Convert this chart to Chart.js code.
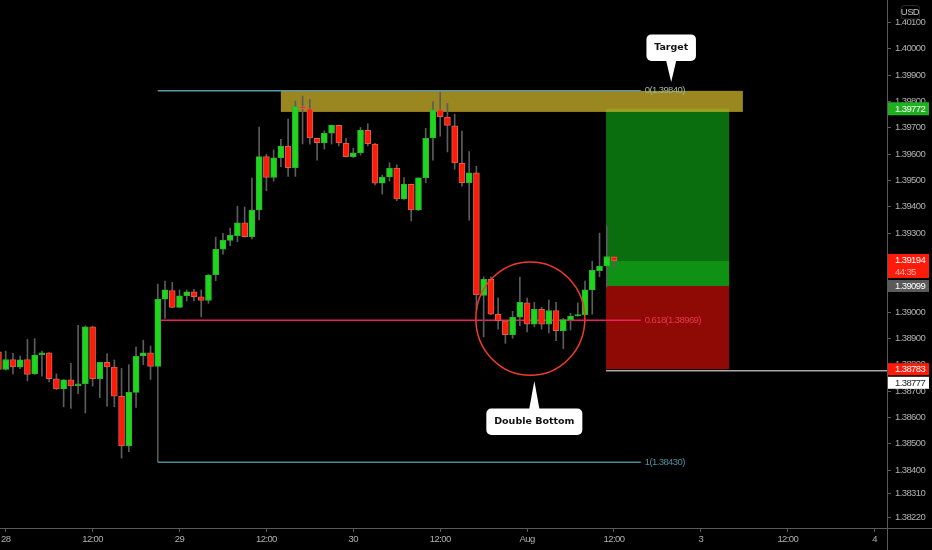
<!DOCTYPE html>
<html>
<head>
<meta charset="utf-8">
<title>Double Bottom</title>
<script src="https://cdn.jsdelivr.net/npm/chart.js@4/dist/chart.umd.min.js"></script>
<style>
    html, body { margin: 0; padding: 0; background: #000; overflow: hidden; }
    canvas { display: block; }
</style>
</head>
<body>
<canvas id="priceChart" width="932" height="550"></canvas>
<script>
// Hourly candles, first one sits just left of the "28" tick
const opens = [
    1.38849, 1.38782, 1.38820, 1.38791, 1.38820, 1.38765, 1.38837, 1.38845, 1.38746, 1.38708,
    1.38743, 1.38720, 1.38728, 1.38944, 1.38747, 1.38809, 1.38791, 1.38680, 1.38492, 1.38695,
    1.38833, 1.38845, 1.38794, 1.39049, 1.39082, 1.39018, 1.39062, 1.39077, 1.39058, 1.39044,
    1.39142, 1.39239, 1.39272, 1.39290, 1.39339, 1.39286, 1.39388, 1.39590, 1.39511, 1.39586,
    1.39629, 1.39548, 1.39780, 1.39772, 1.39660, 1.39643, 1.39679, 1.39709, 1.39641, 1.39590,
    1.39605, 1.39690, 1.39638, 1.39489, 1.39513, 1.39547, 1.39430, 1.39485, 1.39388, 1.39510,
    1.39661, 1.39768, 1.39740, 1.39707, 1.39565, 1.39491, 1.39529, 1.39063, 1.39124, 1.38991,
    1.38967, 1.38914, 1.38981, 1.39035, 1.38954, 1.39010, 1.38954, 1.39006, 1.38929, 1.38971,
    1.38985, 1.38989, 1.39084, 1.39157, 1.39175, 1.39210
];
const highs = [
    1.38856, 1.38852, 1.38843, 1.38833, 1.38896, 1.38899, 1.38852, 1.38846, 1.38765, 1.38744,
    1.38805, 1.38950, 1.38948, 1.38947, 1.38809, 1.38842, 1.38818, 1.38786, 1.38800, 1.38867,
    1.38893, 1.38871, 1.39106, 1.39118, 1.39113, 1.39084, 1.39084, 1.39086, 1.39084, 1.39143,
    1.39284, 1.39299, 1.39319, 1.39402, 1.39399, 1.39509, 1.39702, 1.39599, 1.39616, 1.39656,
    1.39733, 1.39801, 1.39820, 1.39808, 1.39661, 1.39688, 1.39710, 1.39710, 1.39660, 1.39622,
    1.39701, 1.39715, 1.39641, 1.39520, 1.39567, 1.39559, 1.39511, 1.39486, 1.39510, 1.39698,
    1.39799, 1.39835, 1.39792, 1.39751, 1.39687, 1.39609, 1.39554, 1.39134, 1.39134, 1.39054,
    1.38968, 1.39003, 1.39133, 1.39053, 1.39037, 1.39018, 1.39046, 1.39037, 1.38976, 1.38995,
    1.39035, 1.39118, 1.39193, 1.39300, 1.39327, 1.39211
];
const lows = [
    1.38772, 1.38780, 1.38765, 1.38785, 1.38739, 1.38763, 1.38757, 1.38735, 1.38706, 1.38640,
    1.38634, 1.38690, 1.38617, 1.38719, 1.38675, 1.38643, 1.38640, 1.38445, 1.38470, 1.38638,
    1.38800, 1.38744, 1.38791, 1.38976, 1.39017, 1.39017, 1.39042, 1.39042, 1.38982, 1.39033,
    1.39119, 1.39220, 1.39252, 1.39267, 1.39285, 1.39278, 1.39350, 1.39461, 1.39497, 1.39552,
    1.39515, 1.39515, 1.39638, 1.39638, 1.39577, 1.39619, 1.39638, 1.39631, 1.39589, 1.39586,
    1.39596, 1.39631, 1.39483, 1.39448, 1.39497, 1.39423, 1.39428, 1.39346, 1.39385, 1.39491,
    1.39577, 1.39668, 1.39608, 1.39542, 1.39478, 1.39349, 1.39008, 1.38906, 1.38990, 1.38935,
    1.38881, 1.38900, 1.38948, 1.38925, 1.38944, 1.38935, 1.38921, 1.38891, 1.38861, 1.38932,
    1.38984, 1.38989, 1.38992, 1.39134, 1.39096, 1.39162
];
const closes = [
    1.38782, 1.38820, 1.38792, 1.38819, 1.38763, 1.38837, 1.38845, 1.38747, 1.38708, 1.38743,
    1.38720, 1.38727, 1.38944, 1.38747, 1.38809, 1.38792, 1.38681, 1.38492, 1.38695, 1.38832,
    1.38845, 1.38794, 1.39048, 1.39084, 1.39018, 1.39062, 1.39077, 1.39058, 1.39044, 1.39140,
    1.39238, 1.39272, 1.39291, 1.39339, 1.39286, 1.39387, 1.39590, 1.39511, 1.39586, 1.39630,
    1.39548, 1.39780, 1.39772, 1.39661, 1.39643, 1.39679, 1.39709, 1.39642, 1.39590, 1.39605,
    1.39691, 1.39639, 1.39489, 1.39513, 1.39547, 1.39430, 1.39486, 1.39388, 1.39510, 1.39660,
    1.39768, 1.39742, 1.39709, 1.39566, 1.39491, 1.39529, 1.39065, 1.39124, 1.38992, 1.38967,
    1.38914, 1.38980, 1.39037, 1.38954, 1.39010, 1.38954, 1.39006, 1.38929, 1.38971, 1.38985,
    1.38990, 1.39084, 1.39158, 1.39175, 1.39211, 1.39194
];

// Axis ticks
const priceTicks = [
    1.401, 1.400, 1.399, 1.398, 1.397, 1.396, 1.395, 1.394, 1.393, 1.392, 1.391, 1.390,
    1.389, 1.388, 1.387, 1.386, 1.385, 1.384, 1.3831, 1.3822
];
const timeTickHours = [0, 12, 24, 36, 48, 60, 72, 84, 96, 108, 120];
const timeTickLabels = ['28', '12:00', '29', '12:00', '30', '12:00', 'Aug', '12:00', '3', '12:00', '4'];

// Fibonacci levels
const fibLevels = [1.39840, 1.38969, 1.38430];
const fibLabels = ['0(1.39840)', '0.618(1.38969)', '1(1.38430)'];
const fibStartHour = 21;
const fibEndHour = 87.7;

// Position tool and resistance zone levels
const targetPrice = 1.39772;
const lastPrice = 1.39194;
const entryPrice = 1.39099;
const stopPrice = 1.38783;
const markerPrice = 1.38777;

const chartAreaRight = 887;
const chartAreaBottom = 528;
const firstHour = -1;
const labelFamily = '"Liberation Sans"';
const labelFont = '9.5px ' + labelFamily;

const hours = opens.map((v, i) => firstHour + i);

function candleColor(i, up, down) {
    return closes[i] >= opens[i] ? up : down;
}

/**
 * Long position boxes and the gold zone, behind the candles
 */
const zonesPlugin = {
    id: 'zones',
    beforeDraw(chart) {
        // the reference labels are narrow, squeeze the axis text a little
        chart.ctx.letterSpacing = '-0.6px';
    },
    beforeDatasetsDraw(chart) {
        const { ctx, scales: { x, y } } = chart;
        const box = (h0, h1, p0, p1, color) => {
            ctx.fillStyle = color;
            ctx.fillRect(x.getPixelForValue(h0), y.getPixelForValue(p0),
                x.getPixelForValue(h1) - x.getPixelForValue(h0),
                y.getPixelForValue(p1) - y.getPixelForValue(p0));
        };
        ctx.save();
        box(82.9, 99.9, targetPrice, lastPrice, '#0a6e0f');
        box(82.9, 99.9, lastPrice, entryPrice, '#0f9114');
        box(82.9, 99.9, entryPrice, stopPrice, '#8f0a04');
        box(38, 101.8, fibLevels[0], 1.39760, 'rgba(200,175,40,0.77)');
        ctx.restore();
    }
};

/**
 * Circle, callouts, fib labels, axis extensions and price tags on top
 */
const overlayPlugin = {
    id: 'overlay',
    afterDatasetsDraw(chart) {
        const { ctx, scales: { x, y } } = chart;
        ctx.save();
        ctx.strokeStyle = '#f03a2c';
        ctx.lineWidth = 1.5;
        ctx.beginPath();
        ctx.ellipse(x.getPixelForValue(72.45), y.getPixelForValue(1.38975), 54.5, 56.7, 0, 0, Math.PI * 2);
        ctx.stroke();
        ctx.restore();
    },
    afterDraw(chart) {
        const { ctx, scales: { x, y } } = chart;
        ctx.save();

        // axis lines run on to the window edge
        ctx.strokeStyle = '#5a5a5a';
        ctx.lineWidth = 1;
        ctx.beginPath();
        ctx.moveTo(chartAreaRight + 0.5, 0);
        ctx.lineTo(chartAreaRight + 0.5, 550);
        ctx.moveTo(0, chartAreaBottom + 0.5);
        ctx.lineTo(932, chartAreaBottom + 0.5);
        ctx.stroke();

        // fib labels
        ctx.font = labelFont;
        ctx.textAlign = 'left';
        ctx.textBaseline = 'middle';
        const fibColors = ['#9fb8a8', '#e8364a', '#4f8f9c'];
        fibLevels.forEach((level, i) => {
            ctx.fillStyle = fibColors[i];
            ctx.fillText(fibLabels[i], x.getPixelForValue(fibEndHour) + 4, y.getPixelForValue(level));
        });

        drawCallout(ctx, 'Target', x.getPixelForValue(91.9), y.getPixelForValue(1.39874), -1);
        drawCallout(ctx, 'Double Bottom', x.getPixelForValue(73), y.getPixelForValue(1.38738), 1);

        // price tags
        drawTag(ctx, y.getPixelForValue(targetPrice), 13, '#1fb01f', '#ffffff', targetPrice.toFixed(5));
        drawTag(ctx, y.getPixelForValue(lastPrice) + 5, 24, '#ff1a0a', '#ffffff', lastPrice.toFixed(5), '44:35');
        drawTag(ctx, y.getPixelForValue(entryPrice), 12, '#5a5a5a', '#ffffff', entryPrice.toFixed(5));
        drawTag(ctx, y.getPixelForValue(stopPrice), 12, '#ff1a0a', '#ffffff', stopPrice.toFixed(5));
        drawTag(ctx, y.getPixelForValue(markerPrice) + 12, 12, '#ffffff', '#222222', markerPrice.toFixed(5));

        // currency badge
        ctx.fillStyle = '#000';
        ctx.strokeStyle = '#2a2a2a';
        ctx.beginPath();
        ctx.roundRect(901, 5.5, 18.5, 13.5, 3);
        ctx.fill();
        ctx.stroke();
        ctx.fillStyle = '#c0c0c0';
        ctx.font = labelFont;
        ctx.textAlign = 'center';
        ctx.fillText('USD', 910, 12.5);
        ctx.restore();
    }
};

function drawCallout(ctx, text, tipX, tipY, dir) {
    const isUp = dir > 0;
    const boxW = isUp ? 96 : 49.5;
    const boxH = 26.5;
    const tail = isUp ? 27.5 : 21;
    const halfBase = 5.2;
    const boxTop = isUp ? tipY + tail : tipY - tail - boxH;
    const boxLeft = tipX - boxW / 2;

    ctx.save();
    ctx.letterSpacing = '0px';
    ctx.fillStyle = '#ffffff';
    ctx.beginPath();
    ctx.roundRect(boxLeft, boxTop, boxW, boxH, 5);
    ctx.fill();
    ctx.beginPath();
    ctx.moveTo(tipX, tipY);
    ctx.lineTo(tipX - halfBase, isUp ? boxTop + 1 : boxTop + boxH - 1);
    ctx.lineTo(tipX + halfBase, isUp ? boxTop + 1 : boxTop + boxH - 1);
    ctx.closePath();
    ctx.fill();

    ctx.fillStyle = '#111111';
    ctx.font = 'bold 9.5px "DejaVu Sans"';
    ctx.textAlign = 'center';
    ctx.textBaseline = 'middle';
    ctx.fillText(text, tipX, boxTop + boxH / 2);
    ctx.restore();
}

function drawTag(ctx, centerY, height, bg, fg, label, subLabel) {
    ctx.fillStyle = bg;
    ctx.fillRect(888, centerY - height / 2, 41, height);
    ctx.font = labelFont;
    ctx.textAlign = 'left';
    ctx.textBaseline = 'middle';
    ctx.fillStyle = fg;
    if (subLabel) {
        ctx.fillText(label, 895, centerY - 5.5);
        ctx.fillStyle = '#ffb4a8';
        ctx.fillText(subLabel, 895, centerY + 6);
    } else {
        ctx.fillText(label, 895, centerY + 0.5);
    }
}

function levelLine(price, startHour, endHour, color, width) {
    return {
        type: 'line',
        order: 5,
        data: [{ x: startHour, y: price }, { x: endHour, y: price }],
        borderColor: color,
        borderWidth: width,
        pointRadius: 0
    };
}

const ctx = document.getElementById('priceChart').getContext('2d');

new Chart(ctx, {
    data: {
        datasets: [
            // candle wicks
            {
                type: 'bar',
                order: 2,
                data: hours.map((h, i) => ({ x: h, y: [lows[i], highs[i]] })),
                backgroundColor: '#5c5c5c',
                barThickness: 1,
                grouped: false
            },
            // candle bodies
            {
                type: 'bar',
                order: 1,
                data: hours.map((h, i) => ({ x: h, y: [opens[i], closes[i]] })),
                backgroundColor: hours.map((h, i) => candleColor(i, '#1ed61e', '#ff1a0a')),
                borderColor: hours.map((h, i) => candleColor(i, '#2cb52c', '#d8604c')),
                borderWidth: 1,
                borderSkipped: false,
                barThickness: 6,
                grouped: false
            },
            levelLine(fibLevels[0], fibStartHour, fibEndHour, '#5f97a3', 1.5),
            levelLine(fibLevels[1], fibStartHour, fibEndHour, '#f01e5a', 1.5),
            levelLine(fibLevels[2], fibStartHour, fibEndHour, '#4b8a96', 1.5),
            // fib trend leg
            {
                type: 'line',
                order: 5,
                data: [{ x: fibStartHour, y: closes[22] }, { x: fibStartHour, y: fibLevels[2] }],
                borderColor: '#5c5c5c',
                borderWidth: 1.5,
                pointRadius: 0
            },
            levelLine(markerPrice, 82.9, 121.7, '#a8a8a8', 1.5)
        ]
    },
    options: {
        responsive: false,
        animation: false,
        events: [],
        layout: { padding: 0 },
        plugins: {
            legend: { display: false },
            title: { display: false },
            tooltip: { enabled: false }
        },
        scales: {
            x: {
                type: 'linear',
                offset: false,
                min: -0.787,
                max: 121.7,
                afterBuildTicks: scale => {
                    scale.ticks = timeTickHours.map(h => ({ value: h }));
                },
                afterFit: scale => {
                    scale.height = 550 - chartAreaBottom;
                    scale.paddingLeft = 0;
                    scale.paddingRight = 0;
                },
                border: { color: '#5a5a5a' },
                grid: { offset: false, drawOnChartArea: false, drawTicks: true, tickLength: 4, color: '#5a5a5a' },
                ticks: {
                    autoSkip: false,
                    maxRotation: 0,
                    padding: 2,
                    color: '#b0b0b0',
                    font: { family: labelFamily, size: 9.5 },
                    callback: value => timeTickLabels[timeTickHours.indexOf(value)]
                }
            },
            y: {
                type: 'linear',
                position: 'right',
                min: 1.38180,
                max: 1.40185,
                afterBuildTicks: scale => {
                    scale.ticks = priceTicks.map(p => ({ value: p }));
                },
                afterFit: scale => {
                    scale.width = 932 - chartAreaRight;
                    scale.paddingTop = 0;
                    scale.paddingBottom = 0;
                },
                border: { color: '#5a5a5a' },
                grid: { drawOnChartArea: false, drawTicks: true, tickLength: 4, color: '#5a5a5a' },
                ticks: {
                    autoSkip: false,
                    padding: 4,
                    color: '#b0b0b0',
                    font: { family: labelFamily, size: 9.5 },
                    callback: value => value.toFixed(5)
                }
            }
        }
    },
    plugins: [zonesPlugin, overlayPlugin]
});
</script>
</body>
</html>
